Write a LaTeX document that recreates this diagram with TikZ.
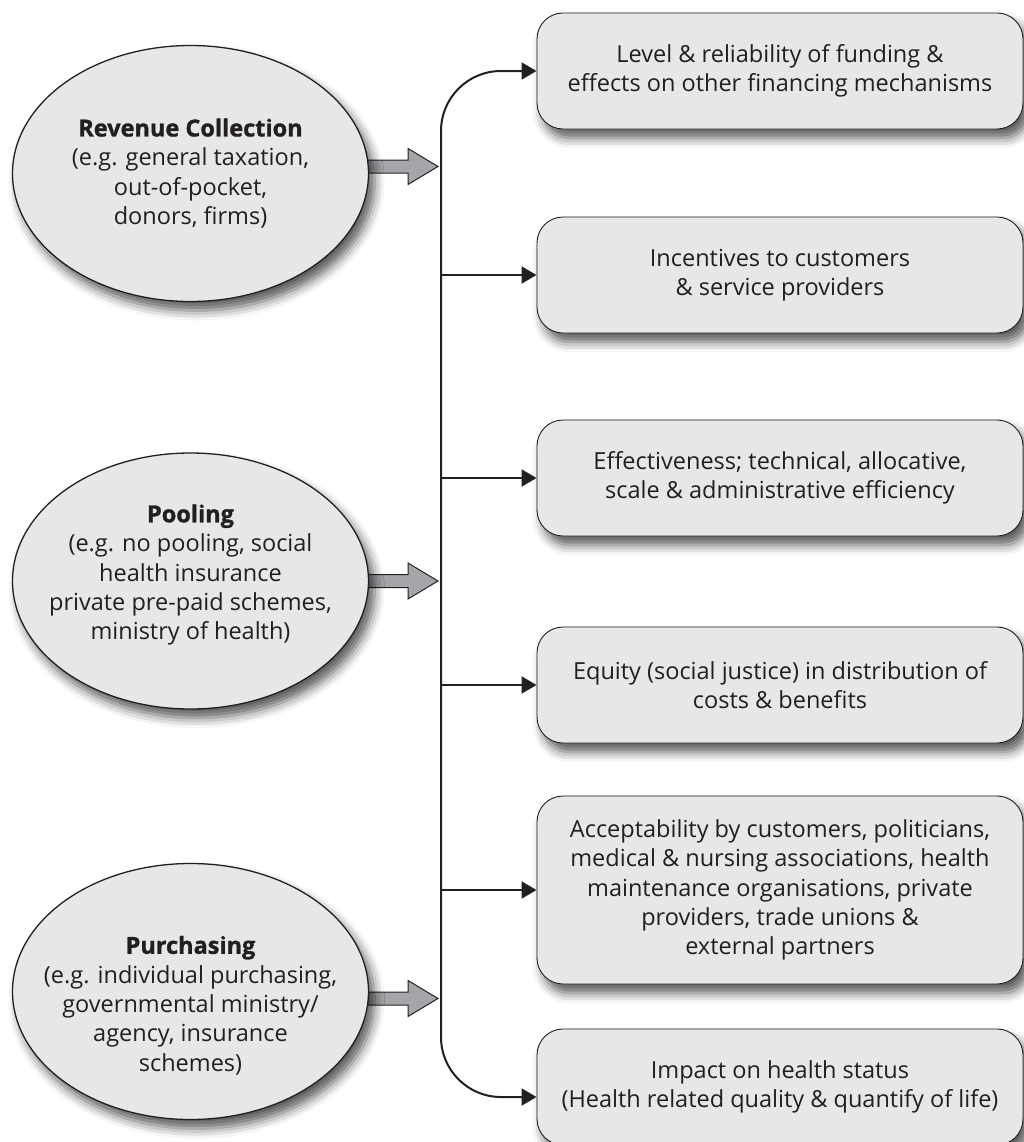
\documentclass[tikz,border=0pt]{standalone}
\usepackage{fontspec}
\setmainfont{Open Sans}
\newfontfamily\heavyfont{Open Sans}[BoldFeatures={FakeBold=1.2}]
\usetikzlibrary{arrows.meta,shadows.blur,shapes.geometric,calc}
\definecolor{panel}{HTML}{E6E7E9}
\definecolor{ink}{HTML}{231F20}
\definecolor{blockgray}{HTML}{A4A6A9}
\pgfdeclarelayer{front}
\pgfsetlayers{main,front}
\newcommand{\fhead}[1]{{\heavyfont\bfseries #1}}
\begin{document}
\begin{tikzpicture}[x=1bp,y=-1bp,
  font=\fontsize{23.6}{29.5}\selectfont,
  softshadow/.style={blur shadow={shadow xshift=6bp,shadow yshift=-9bp,
      shadow blur radius=10bp,shadow opacity=65}},
  outcome/.style={draw=ink, line width=0.9bp, fill=panel, rounded corners=26bp,
      minimum width=486bp, minimum height=116bp, inner sep=0pt, align=center,
      text=ink, softshadow},
  func/.style={ellipse, draw=ink, line width=1.3bp, fill=panel,
      minimum width=356bp, minimum height=256bp, inner sep=0pt, softshadow},
  functext/.style={align=center, text=ink},
  conn/.style={draw=ink, line width=2bp, -{Triangle[length=15bp,width=17bp]}},
  blockarrow/.style={draw=ink, line width=1bp, fill=blockgray, line join=miter}]

\useasboundingbox (0,0) rectangle (1024,1142);

% outcome boxes
\node[outcome] (b1) at (780,71)  {Level \& reliability of funding \&\\effects on other financing mechanisms};
\node[outcome] (b2) at (780,275) {Incentives to customers\\\& service providers};
\node[outcome] (b3) at (780,478) {Effectiveness; technical, allocative,\\scale \& administrative efficiency};
\node[outcome] (b4) at (780,685) {Equity (social justice) in distribution of\\costs \& benefits};
\node[outcome, minimum height=188bp] (b5) at (780,890)
  {Acceptability by customers, politicians,\\medical \& nursing associations, health\\maintenance organisations, private\\providers, trade unions \&\\external partners};
\node[outcome] (b6) at (780,1087) {Impact on health status\\(Health related quality \& quantify of life)};

% financing functions
\begin{pgfonlayer}{front}
\node[func] (rev)  at (190.5,173.5) {};
\node[func] (pool) at (190.5,581) {};
\node[func] (pur)  at (190.5,991.5) {};
\node[functext] (revt) at (190.5,173.5)
  {\fhead{Revenue Collection}\\(e.g. general taxation,\\out-of-pocket,\\donors, firms)};
\node[functext] (poolt) at (190.5,575)
  {\fhead{Pooling}\\(e.g. no pooling, social\\health insurance\\private pre-paid schemes,\\ministry of health)};
\node[functext] (purt) at (190.5,1005.5)
  {\fhead{Purchasing}\\(e.g. individual purchasing,\\governmental ministry/\\agency, insurance\\schemes)};
\end{pgfonlayer}

% spine with arrows to every outcome
\coordinate (spine) at (441,580);
\draw[conn, rounded corners=60bp] (spine) |- (b1.west);
\draw[conn, rounded corners=60bp] (spine) |- ($(b6.west)+(0,10)$);
\draw[conn] (spine |- b2.west) -- (b2.west);
\draw[conn] (spine |- b3.west) -- (b3.west);
\draw[conn] (spine |- b4.west) -- (b4.west);
\draw[conn] (spine |- b5.west) -- (b5.west);

% block arrows from the functions to the spine
\coordinate (t1) at ($(spine |- rev.east)+(-3,-7)$);
\coordinate (t2) at ($(spine |- pool.east)+(-3,0)$);
\coordinate (t3) at ($(spine |- pur.east)+(-3,7)$);
\foreach \t in {t1,t2,t3}
  \draw[blockarrow] (\t) -- ++(-30,-18) -- ++(0,11.5) -- ++(-55,0) -- ++(0,13)
    -- ++(55,0) -- ++(0,11.5) -- cycle;
\end{tikzpicture}
\end{document}
